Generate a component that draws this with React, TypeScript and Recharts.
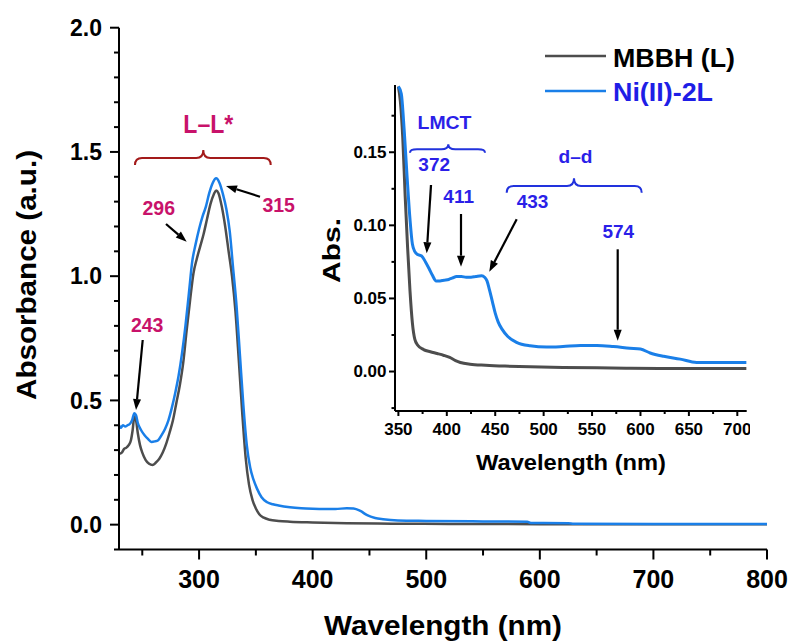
import React from 'react';
import { LineChart, Line, XAxis, YAxis } from 'recharts';

const FONT = '"Liberation Sans", Arial, Helvetica, sans-serif';

// ---------- Main spectrum data ----------
const mainMbbhWl = [229.5, 232, 234, 236, 238, 240, 241.5, 243, 244.5, 246, 248, 250, 253, 256, 259, 262, 265, 268, 271, 274, 277, 280, 283, 286, 289, 292, 295, 298, 301, 304, 307, 310, 313, 315, 317, 320, 323, 326, 329, 332, 335, 338, 341, 344, 347, 350, 353, 357, 362, 370, 380, 400, 430, 470, 520, 600, 700, 800];
const mainMbbhAbs = [0.285, 0.29, 0.305, 0.31, 0.32, 0.34, 0.38, 0.435, 0.42, 0.37, 0.32, 0.29, 0.26, 0.245, 0.24, 0.25, 0.265, 0.29, 0.325, 0.37, 0.42, 0.49, 0.56, 0.65, 0.78, 0.9, 1.01, 1.07, 1.12, 1.17, 1.23, 1.29, 1.33, 1.345, 1.335, 1.28, 1.2, 1.1, 1.0, 0.86, 0.66, 0.45, 0.27, 0.16, 0.1, 0.065, 0.042, 0.028, 0.02, 0.015, 0.012, 0.009, 0.006, 0.004, 0.003, 0.002, 0.002, 0.002];

const mainNiWl = [229.5, 231, 233, 235, 237, 239, 241, 243, 244.5, 246, 249, 252, 255, 258, 261, 264, 267, 270, 273, 276, 279, 282, 285, 288, 291, 294, 297, 300, 303, 306, 309, 312, 315, 318, 321, 324, 327, 330, 333, 336, 339, 342, 345, 348, 351, 355, 360, 365, 370, 380, 390, 400, 410, 420, 430, 436, 442, 448, 455, 462, 475, 500, 550, 589, 592, 625, 630, 700, 800];
const mainNiAbs = [0.4, 0.39, 0.4, 0.395, 0.4, 0.405, 0.42, 0.448, 0.44, 0.41, 0.38, 0.36, 0.345, 0.333, 0.335, 0.34, 0.36, 0.385, 0.42, 0.47, 0.53, 0.6, 0.69, 0.8, 0.93, 1.06, 1.13, 1.19, 1.24, 1.28, 1.335, 1.375, 1.394, 1.375, 1.33, 1.27, 1.18, 1.03, 0.88, 0.68, 0.48, 0.32, 0.23, 0.18, 0.145, 0.11, 0.09, 0.082, 0.077, 0.07, 0.066, 0.064, 0.063, 0.063, 0.066, 0.065, 0.055, 0.038, 0.027, 0.022, 0.017, 0.015, 0.013, 0.012, 0.007, 0.006, 0.004, 0.003, 0.003];

// ---------- Inset data ----------
const insetMbbhWl = [350, 352, 354.5, 357, 359.5, 362, 364.5, 367, 370, 376, 383, 390, 397, 403, 409, 414, 424, 440, 460, 486, 520, 555, 590, 624, 660, 709.5];
const insetMbbhAbs = [0.195, 0.185, 0.16, 0.12, 0.085, 0.055, 0.033, 0.022, 0.018, 0.015, 0.0135, 0.0123, 0.011, 0.0096, 0.0075, 0.0062, 0.005, 0.0043, 0.0037, 0.0032, 0.0028, 0.0025, 0.0023, 0.0021, 0.0021, 0.0021];

const insetNiWl = [350, 353, 356, 359, 362, 364.5, 367, 370, 374, 378, 382, 385, 389, 393, 397, 402, 406, 410, 415, 420, 425, 430, 436, 439, 441.5, 444, 447, 450, 453, 457, 463, 472, 486, 503, 520, 538, 555, 572, 589, 600, 610, 624, 641, 658, 709.5];
const insetNiAbs = [0.195, 0.19, 0.165, 0.133, 0.104, 0.087, 0.082, 0.08, 0.079, 0.075, 0.07, 0.066, 0.062, 0.062, 0.0625, 0.063, 0.064, 0.065, 0.065, 0.0645, 0.0645, 0.065, 0.0655, 0.0645, 0.062, 0.056, 0.048, 0.04, 0.034, 0.029, 0.024, 0.02, 0.0176, 0.0167, 0.0171, 0.0178, 0.0178, 0.0171, 0.016, 0.0154, 0.0127, 0.0104, 0.0085, 0.0062, 0.0062];

// ---------- Series / ticks ----------
const seriesNames = ['MBBH (L)', 'Ni(II)-2L'];
const seriesColors = ['#4d4d4d', '#1a7fe8'];
const legendTextColors = ['#000000', '#1e1ee6'];

const mainXTicks = [250, 300, 350, 400, 450, 500, 550, 600, 650, 700, 750, 800];
const mainXMajor = [300, 400, 500, 600, 700, 800];
const mainYTicks = [-0.1, 0, 0.1, 0.2, 0.3, 0.4, 0.5, 0.6, 0.7, 0.8, 0.9, 1.0, 1.1, 1.2, 1.3, 1.4, 1.5, 1.6, 1.7, 1.8, 1.9, 2.0];
const mainYMajor = [0, 0.5, 1.0, 1.5, 2.0];

const insetXTicks = [350, 375, 400, 425, 450, 475, 500, 525, 550, 575, 600, 625, 650, 675, 700];
const insetXMajor = [350, 400, 450, 500, 550, 600, 650, 700];
const insetYTicks = [-0.025, 0, 0.025, 0.05, 0.075, 0.1, 0.125, 0.15, 0.175];
const insetYMajor = [0, 0.05, 0.1, 0.15];

const toRows = (wl: number[], ab: number[]) => wl.map((x, i) => ({ x, y: ab[i] }));
const mainMbbhRows = toRows(mainMbbhWl, mainMbbhAbs);
const mainNiRows = toRows(mainNiWl, mainNiAbs);
const insetMbbhRows = toRows(insetMbbhWl, insetMbbhAbs);
const insetNiRows = toRows(insetNiWl, insetNiAbs);

type TickOpts = {
  orient: 'left' | 'bottom';
  major: number[];
  majorLen: number;
  minorLen: number;
  gap: number;
  fontSize: number;
  dy: number;
  digits: number;
};

const makeTick = (o: TickOpts) => (props: any) => {
  const { x, y, payload } = props;
  const v = payload.value as number;
  const isMajor = o.major.some((m) => Math.abs(m - v) < 1e-9);
  const len = isMajor ? o.majorLen : o.minorLen;
  if (o.orient === 'left') {
    return (
      <g>
        <line x1={x} y1={y} x2={x - len} y2={y} stroke="#000" strokeWidth={2} />
        {isMajor && (
          <text x={x - o.gap} y={y + o.dy} textAnchor="end" fontFamily={FONT} fontWeight="bold" fontSize={o.fontSize} fill="#000">
            {v.toFixed(o.digits)}
          </text>
        )}
      </g>
    );
  }
  return (
    <g>
      <line x1={x} y1={y} x2={x} y2={y + len} stroke="#000" strokeWidth={2} />
      {isMajor && (
        <text x={x} y={y + o.dy} textAnchor="middle" fontFamily={FONT} fontWeight="bold" fontSize={o.fontSize} fill="#000">
          {v.toFixed(o.digits)}
        </text>
      )}
    </g>
  );
};

const MainYTick = makeTick({ orient: 'left', major: mainYMajor, majorLen: 9, minorLen: 5, gap: 17, fontSize: 23, dy: 8.3, digits: 1 });
const MainXTick = makeTick({ orient: 'bottom', major: mainXMajor, majorLen: 10, minorLen: 6, gap: 0, fontSize: 25, dy: 38.5, digits: 0 });
const InsetYTick = makeTick({ orient: 'left', major: insetYMajor, majorLen: 6, minorLen: 3.5, gap: 8.5, fontSize: 17, dy: 5.7, digits: 2 });
const InsetXTick = makeTick({ orient: 'bottom', major: insetXMajor, majorLen: 5, minorLen: 3, gap: 0, fontSize: 17, dy: 24, digits: 0 });

const Arrow = ({ x1, y1, x2, y2 }: { x1: number; y1: number; x2: number; y2: number }) => {
  const ang = Math.atan2(y2 - y1, x2 - x1);
  const L = 11;
  const W = 4;
  const bx = x2 - L * Math.cos(ang);
  const by = y2 - L * Math.sin(ang);
  const px = -Math.sin(ang) * W;
  const py = Math.cos(ang) * W;
  return (
    <g>
      <line x1={x1} y1={y1} x2={bx} y2={by} stroke="#000" strokeWidth={2.2} />
      <polygon points={`${x2},${y2} ${bx + px},${by + py} ${bx - px},${by - py}`} fill="#000" />
    </g>
  );
};

const bracePath = (x1: number, x2: number, xm: number, yH: number, yPeak: number, yEnd: number) => {
  const r = 7;
  return `M${x1},${yEnd} Q${x1},${yH} ${x1 + r},${yH} L${xm - r},${yH} Q${xm},${yH} ${xm},${yPeak} Q${xm},${yH} ${xm + r},${yH} L${x2 - r},${yH} Q${x2},${yH} ${x2},${yEnd}`;
};

const LL_COLOR = '#c8126a';
const LL_BRACE = '#a31a1a';
const BLUE_TXT = '#2b1fe8';
const BLUE_BRACE = '#2233dd';

const Txt = (p: { x: number; y: number; fill: string; size: number; len?: number; children: React.ReactNode }) => (
  <text
    x={p.x}
    y={p.y}
    textAnchor="middle"
    fontFamily={FONT}
    fontWeight="bold"
    fontSize={p.size}
    fill={p.fill}
    {...(p.len ? { textLength: p.len, lengthAdjust: 'spacingAndGlyphs' } : {})}
  >
    {p.children}
  </text>
);

export default function App() {
  return (
    <div style={{ position: 'absolute', left: 0, top: 0, width: 791, height: 642, background: '#fff', fontFamily: FONT }}>
      <div style={{ position: 'absolute', left: 0, top: 0 }}>
        <LineChart width={791} height={642} margin={{ top: 27.7, right: 24, bottom: 0, left: 0 }}>
          <XAxis
            type="number"
            dataKey="x"
            domain={[229.5, 800]}
            ticks={mainXTicks}
            interval={0}
            tickSize={0}
            tickMargin={0}
            tickLine={false}
            tick={MainXTick}
            axisLine={{ stroke: '#000', strokeWidth: 2 }}
            height={92.5}
            allowDataOverflow
          />
          <YAxis
            type="number"
            domain={[-0.1, 2.0]}
            ticks={mainYTicks}
            interval={0}
            tickSize={0}
            tickMargin={0}
            tickLine={false}
            tick={MainYTick}
            axisLine={{ stroke: '#000', strokeWidth: 2 }}
            width={119}
            allowDataOverflow
          />
          <Line data={mainMbbhRows} dataKey="y" name={seriesNames[0]} type="monotone" stroke={seriesColors[0]} strokeWidth={2.5} dot={false} isAnimationActive={false} />
          <Line data={mainNiRows} dataKey="y" name={seriesNames[1]} type="monotone" stroke={seriesColors[1]} strokeWidth={2.5} dot={false} isAnimationActive={false} />
        </LineChart>
      </div>
      <div style={{ position: 'absolute', left: 330, top: 60 }}>
        <LineChart width={420} height={430} margin={{ top: 25, right: 3.3, bottom: 0, left: 0 }}>
          <XAxis
            type="number"
            dataKey="x"
            domain={[346.5, 709.7]}
            ticks={insetXTicks}
            interval={0}
            tickSize={0}
            tickMargin={0}
            tickLine={false}
            tick={InsetXTick}
            axisLine={{ stroke: '#000', strokeWidth: 2 }}
            height={79}
            allowDataOverflow
          />
          <YAxis
            type="number"
            domain={[-0.027, 0.196]}
            ticks={insetYTicks}
            interval={0}
            tickSize={0}
            tickMargin={0}
            tickLine={false}
            tick={InsetYTick}
            axisLine={{ stroke: '#000', strokeWidth: 2 }}
            width={65}
            allowDataOverflow
          />
          <Line data={insetMbbhRows} dataKey="y" name={seriesNames[0]} type="monotone" stroke={seriesColors[0]} strokeWidth={3} dot={false} isAnimationActive={false} />
          <Line data={insetNiRows} dataKey="y" name={seriesNames[1]} type="monotone" stroke={seriesColors[1]} strokeWidth={3} dot={false} isAnimationActive={false} />
        </LineChart>
      </div>
      <svg width={791} height={642} style={{ position: 'absolute', left: 0, top: 0, pointerEvents: 'none' }}>
        {/* Axis titles */}
        <Txt x={443} y={635} fill="#000" size={27} len={238}>Wavelength (nm)</Txt>
        <g transform="translate(36,275) rotate(-90)">
          <Txt x={0} y={0} fill="#000" size={27} len={250}>Absorbance (a.u.)</Txt>
        </g>
        <Txt x={571} y={470} fill="#000" size={22} len={190}>Wavelength (nm)</Txt>
        <g transform="translate(340,250.5) rotate(-90)">
          <Txt x={0} y={0} fill="#000" size={23} len={65}>Abs.</Txt>
        </g>

        {/* Legend */}
        {seriesNames.map((n, i) => (
          <g key={n}>
            <line x1={545} x2={606} y1={56 + i * 35} y2={56 + i * 35} stroke={seriesColors[i]} strokeWidth={2.5} />
            <text
              x={613}
              y={66.5 + i * 34.5}
              fontFamily={FONT}
              fontWeight="bold"
              fontSize={26}
              fill={legendTextColors[i]}
              textLength={i === 0 ? 122 : 100}
              lengthAdjust="spacingAndGlyphs"
            >
              {n}
            </text>
          </g>
        ))}

        {/* Main annotations */}
        <Txt x={208.3} y={133.3} fill={LL_COLOR} size={26} len={50}>L–L*</Txt>
        <path d={bracePath(135, 270.7, 203.3, 158, 150, 165)} fill="none" stroke={LL_BRACE} strokeWidth={2} />
        <Txt x={158.8} y={215} fill={LL_COLOR} size={19.5}>296</Txt>
        <Txt x={278.7} y={211.7} fill={LL_COLOR} size={19.5}>315</Txt>
        <Txt x={147.2} y={331.7} fill={LL_COLOR} size={19.5}>243</Txt>
        <Arrow x1={142.7} y1={340} x2={136} y2={410} />
        <Arrow x1={166} y1={224} x2={186.7} y2={241.7} />
        <Arrow x1={260} y1={196.7} x2={226} y2={186} />

        {/* Inset annotations */}
        <Txt x={444.5} y={129.3} fill={BLUE_TXT} size={19} len={54}>LMCT</Txt>
        <path d={bracePath(410, 485, 448.3, 149.3, 144.3, 152.7)} fill="none" stroke={BLUE_BRACE} strokeWidth={2} />
        <Txt x={434.2} y={170.7} fill={BLUE_TXT} size={19}>372</Txt>
        <Txt x={458.7} y={203} fill={BLUE_TXT} size={19}>411</Txt>
        <Txt x={575.5} y={163.3} fill={BLUE_TXT} size={19} len={34}>d–d</Txt>
        <path d={bracePath(506.7, 641.7, 574, 186, 178.3, 192.7)} fill="none" stroke={BLUE_BRACE} strokeWidth={2} />
        <Txt x={532.5} y={208} fill={BLUE_TXT} size={19}>433</Txt>
        <Txt x={618.3} y={238.3} fill={BLUE_TXT} size={19}>574</Txt>
        <Arrow x1={431} y1={185} x2={426.7} y2={253.3} />
        <Arrow x1={461} y1={214} x2={461} y2={266.7} />
        <Arrow x1={516.7} y1={219.3} x2={489.3} y2={271.7} />
        <Arrow x1={617.7} y1={249.3} x2={617.7} y2={340.7} />
      </svg>
    </div>
  );
}
